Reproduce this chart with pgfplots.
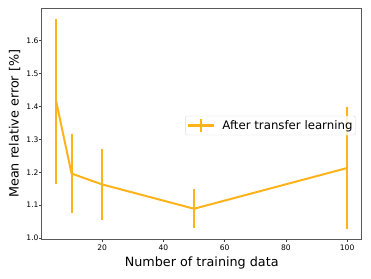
\documentclass[border=0pt]{standalone}
\usepackage{pgfplots}
\pgfplotsset{compat=1.18}
\usepackage{pgfplotstable}
\usepackage{fontspec}
\setmainfont{DejaVu Sans}
\definecolor{tl}{RGB}{255,179,26}
\pgfplotstableread{
x y e
5 1.415 0.251
10 1.196 0.120
20 1.163 0.107
50 1.089 0.059
100 1.213 0.185
}\datatl
\begin{document}
\begin{tikzpicture}
\useasboundingbox (-41.7bp,-39bp) rectangle (329.3bp,239.3bp);
\begin{axis}[
  scale only axis,
  width=320bp, height=231bp,
  xmin=0.25, xmax=104.75,
  ymin=0.996, ymax=1.699,
  xtick={20,40,60,80,100},
  ytick={1.0,1.1,1.2,1.3,1.4,1.5,1.6},
  /pgf/number format/assume math mode=true,
  tick label style={font=\fontsize{7.6}{9}\selectfont},
  yticklabel style={anchor=east, inner sep=0.5bp, /pgf/number format/.cd, fixed, fixed zerofill, precision=1},
  xticklabel style={anchor=north, inner sep=0pt, yshift=-3bp},
  tick align=outside,
  xtick pos=bottom, ytick pos=left,
  major tick length=2.5bp,
  every tick/.style={black!75, line width=0.7bp},
  axis line style={black!65, line width=0.8bp},
  xlabel={Number of training data},
  ylabel={Mean relative error [\%]},
  label style={font=\fontsize{12.8}{15}\selectfont},
  xlabel style={at={(axis description cs:0.5,-0.1169)}, anchor=base},
  ylabel style={at={(axis description cs:-0.0719,0.5)}, anchor=base},
  legend style={at={(axis description cs:1,0.5)}, anchor=east, xshift=-6bp, yshift=-1.7bp,
    draw=black!15, rounded corners=2bp, fill=white, fill opacity=0.8, text opacity=1,
    font=\fontsize{11.8}{14}\selectfont, inner xsep=1.5bp, inner ysep=2.5bp,
    nodes={inner sep=1.5bp}},
  legend cell align=left,
]
\addplot[tl, line width=2bp, mark=none,
  legend image code/.code={
    \path[draw=none, fill=none] (-0.5bp,0bp) rectangle (33bp,0.1bp);
    \draw[tl, line width=2bp] (0bp,0bp) -- (25.6bp,0bp);
    \draw[tl, line width=2bp] (12.8bp,-6bp) -- (12.8bp,6bp);},
  error bars/.cd, y dir=both, y explicit, error mark=none,
  error bar style={line width=2bp, tl}]
  table[x=x, y=y, y error=e] {\datatl};
\addlegendentry{After transfer learning}
\end{axis}
\end{tikzpicture}
\end{document}
